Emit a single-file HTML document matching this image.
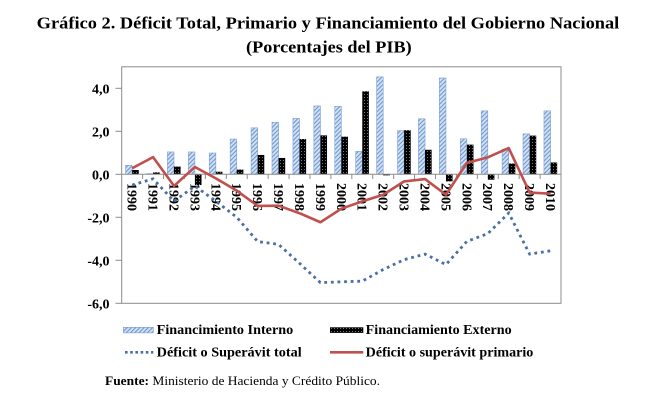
<!DOCTYPE html>
<html>
<head>
<meta charset="utf-8">
<style>
html,body{margin:0;padding:0;background:#fff;}
svg{display:block;}
text{font-family:"Liberation Serif","Times New Roman",serif;}
</style>
</head>
<body>
<svg width="661" height="419" viewBox="0 0 661 419" xmlns="http://www.w3.org/2000/svg" font-family="Liberation Serif, serif">
<defs>
<pattern id="pi" width="3" height="3" patternUnits="userSpaceOnUse" patternTransform="rotate(45)">
<rect width="3" height="3" fill="#d3e1f3"/>
<rect width="1.1" height="3" fill="#6f98d0"/>
</pattern>
<pattern id="pe" width="3" height="3" patternUnits="userSpaceOnUse">
<rect width="3" height="3" fill="#000"/>
<rect x="1" y="1" width="1" height="1" fill="#777"/>
</pattern>
</defs>
<rect width="661" height="419" fill="#fff"/>

<!-- Title -->
<text x="36.7" y="28.5" font-size="17" font-weight="bold" textLength="582.6" lengthAdjust="spacingAndGlyphs">Gráfico 2. Déficit Total, Primario y Financiamiento del Gobierno Nacional</text>
<text x="246" y="52.5" font-size="17" font-weight="bold" textLength="165.7" lengthAdjust="spacingAndGlyphs">(Porcentajes del PIB)</text>

<!-- Plot area border -->
<rect x="121.7" y="66.8" width="439.3" height="236.5" fill="none" stroke="#8c8c8c" stroke-width="1"/>

<!-- Y ticks -->
<g stroke="#8c8c8c" stroke-width="1">
<line x1="115.5" y1="88.3" x2="121.7" y2="88.3"/>
<line x1="115.5" y1="131.3" x2="121.7" y2="131.3"/>
<line x1="115.5" y1="174.3" x2="121.7" y2="174.3"/>
<line x1="115.5" y1="217.3" x2="121.7" y2="217.3"/>
<line x1="115.5" y1="260.3" x2="121.7" y2="260.3"/>
<line x1="115.5" y1="303.3" x2="121.7" y2="303.3"/>
</g>
<g font-size="14" font-weight="bold" text-anchor="end">
<text x="109.5" y="93.3">4,0</text>
<text x="109.5" y="136.3">2,0</text>
<text x="109.5" y="179.3">0,0</text>
<text x="109.5" y="222.3">-2,0</text>
<text x="109.5" y="265.3">-4,0</text>
<text x="109.5" y="308.3">-6,0</text>
</g>

<!-- Bars: Interno -->
<g fill="url(#pi)" stroke="#7aa0d4" stroke-width="0.6">
<rect x="125.56" y="165.27" width="6.6" height="9.03"/>
<rect x="146.48" y="173.65" width="6.6" height="0.65"/>
<rect x="167.40" y="151.94" width="6.6" height="22.36"/>
<rect x="188.32" y="151.94" width="6.6" height="22.36"/>
<rect x="209.24" y="153.01" width="6.6" height="21.29"/>
<rect x="230.16" y="139.04" width="6.6" height="35.26"/>
<rect x="251.08" y="127.86" width="6.6" height="46.44"/>
<rect x="272.00" y="122.27" width="6.6" height="52.03"/>
<rect x="292.92" y="118.40" width="6.6" height="55.90"/>
<rect x="313.84" y="105.93" width="6.6" height="68.37"/>
<rect x="334.76" y="106.36" width="6.6" height="67.94"/>
<rect x="355.68" y="151.30" width="6.6" height="23.00"/>
<rect x="376.60" y="76.90" width="6.6" height="97.40"/>
<rect x="397.52" y="130.65" width="6.6" height="43.65"/>
<rect x="418.44" y="118.83" width="6.6" height="55.47"/>
<rect x="439.36" y="77.98" width="6.6" height="96.32"/>
<rect x="460.28" y="138.82" width="6.6" height="35.48"/>
<rect x="481.20" y="110.87" width="6.6" height="63.43"/>
<rect x="502.12" y="149.14" width="6.6" height="25.16"/>
<rect x="523.04" y="133.88" width="6.6" height="40.42"/>
<rect x="543.96" y="110.87" width="6.6" height="63.43"/>
</g>
<!-- Bars: Externo -->
<g fill="url(#pe)">
<rect x="132.16" y="170.00" width="6.6" height="4.30"/>
<rect x="153.08" y="172.36" width="6.6" height="1.94"/>
<rect x="174.00" y="166.56" width="6.6" height="7.74"/>
<rect x="194.92" y="174.30" width="6.6" height="10.75"/>
<rect x="215.84" y="171.72" width="6.6" height="2.58"/>
<rect x="236.76" y="169.57" width="6.6" height="4.73"/>
<rect x="257.68" y="154.95" width="6.6" height="19.35"/>
<rect x="278.60" y="157.96" width="6.6" height="16.34"/>
<rect x="299.52" y="139.04" width="6.6" height="35.26"/>
<rect x="320.44" y="135.38" width="6.6" height="38.92"/>
<rect x="341.36" y="136.67" width="6.6" height="37.63"/>
<rect x="362.28" y="91.31" width="6.6" height="82.99"/>
<rect x="383.20" y="174.30" width="6.6" height="1.10"/>
<rect x="404.12" y="130.22" width="6.6" height="44.08"/>
<rect x="425.04" y="149.79" width="6.6" height="24.51"/>
<rect x="445.96" y="174.30" width="6.6" height="7.10"/>
<rect x="466.88" y="144.63" width="6.6" height="29.67"/>
<rect x="487.80" y="174.30" width="6.6" height="5.40"/>
<rect x="508.72" y="163.55" width="6.6" height="10.75"/>
<rect x="529.64" y="135.60" width="6.6" height="38.70"/>
<rect x="550.56" y="162.47" width="6.6" height="11.83"/>
</g>

<!-- X axis at zero -->
<line x1="121.7" y1="174.3" x2="561" y2="174.3" stroke="#8c8c8c" stroke-width="1"/>
<g stroke="#8c8c8c" stroke-width="1">
<line x1="142.62" y1="174.3" x2="142.62" y2="179"/>
<line x1="163.54" y1="174.3" x2="163.54" y2="179"/>
<line x1="184.46" y1="174.3" x2="184.46" y2="179"/>
<line x1="205.38" y1="174.3" x2="205.38" y2="179"/>
<line x1="226.30" y1="174.3" x2="226.30" y2="179"/>
<line x1="247.22" y1="174.3" x2="247.22" y2="179"/>
<line x1="268.14" y1="174.3" x2="268.14" y2="179"/>
<line x1="289.06" y1="174.3" x2="289.06" y2="179"/>
<line x1="309.98" y1="174.3" x2="309.98" y2="179"/>
<line x1="330.90" y1="174.3" x2="330.90" y2="179"/>
<line x1="351.82" y1="174.3" x2="351.82" y2="179"/>
<line x1="372.74" y1="174.3" x2="372.74" y2="179"/>
<line x1="393.66" y1="174.3" x2="393.66" y2="179"/>
<line x1="414.58" y1="174.3" x2="414.58" y2="179"/>
<line x1="435.50" y1="174.3" x2="435.50" y2="179"/>
<line x1="456.42" y1="174.3" x2="456.42" y2="179"/>
<line x1="477.34" y1="174.3" x2="477.34" y2="179"/>
<line x1="498.26" y1="174.3" x2="498.26" y2="179"/>
<line x1="519.18" y1="174.3" x2="519.18" y2="179"/>
<line x1="540.10" y1="174.3" x2="540.10" y2="179"/>
</g>

<!-- X labels (rotated) -->
<g font-size="14" font-weight="bold">
<text transform="translate(127.6,183) rotate(90)">1990</text>
<text transform="translate(148.5,183) rotate(90)">1991</text>
<text transform="translate(169.4,183) rotate(90)">1992</text>
<text transform="translate(190.4,183) rotate(90)">1993</text>
<text transform="translate(211.3,183) rotate(90)">1994</text>
<text transform="translate(232.2,183) rotate(90)">1995</text>
<text transform="translate(253.1,183) rotate(90)">1996</text>
<text transform="translate(274.0,183) rotate(90)">1997</text>
<text transform="translate(295.0,183) rotate(90)">1998</text>
<text transform="translate(315.9,183) rotate(90)">1999</text>
<text transform="translate(336.8,183) rotate(90)">2000</text>
<text transform="translate(357.7,183) rotate(90)">2001</text>
<text transform="translate(378.6,183) rotate(90)">2002</text>
<text transform="translate(399.6,183) rotate(90)">2003</text>
<text transform="translate(420.5,183) rotate(90)">2004</text>
<text transform="translate(441.4,183) rotate(90)">2005</text>
<text transform="translate(462.3,183) rotate(90)">2006</text>
<text transform="translate(483.2,183) rotate(90)">2007</text>
<text transform="translate(504.2,183) rotate(90)">2008</text>
<text transform="translate(525.1,183) rotate(90)">2009</text>
<text transform="translate(546.0,183) rotate(90)">2010</text>
</g>

<!-- Total deficit (dotted) -->
<polyline fill="none" stroke="#4a6fa5" stroke-width="2.8" stroke-dasharray="2.8 3.8"
points="132.16,185.05 153.08,178.82 174.00,201.20 194.92,186.10 215.84,201.18 236.76,217.30 257.68,241.60 278.60,244.39 299.52,263.31 320.44,282.66 341.36,281.80 362.28,281.16 383.20,269.55 404.12,259.66 425.04,254.07 445.96,264.60 466.88,241.38 487.80,233.64 508.72,213.00 529.64,254.07 550.56,250.84"/>

<!-- Primary deficit (red) -->
<polyline fill="none" stroke="#c0504d" stroke-width="2.6" stroke-linejoin="round"
points="132.16,168.28 153.08,157.10 174.00,185.91 194.92,166.99 215.84,178.39 236.76,190.64 257.68,205.90 278.60,205.69 299.52,213.22 320.44,222.25 341.36,208.70 362.28,201.39 383.20,194.73 404.12,181.40 425.04,179.03 445.96,194.73 466.88,162.90 487.80,157.32 508.72,148.07 529.64,192.58 550.56,193.65"/>

<!-- Legend -->
<rect x="123.3" y="327.3" width="30" height="5.6" fill="url(#pi)" stroke="#7aa0d4" stroke-width="0.6"/>
<text x="156.7" y="334" font-size="13.5" font-weight="bold" textLength="136.5" lengthAdjust="spacingAndGlyphs">Financimiento Interno</text>
<rect x="330" y="327.3" width="33.3" height="5.6" fill="url(#pe)"/>
<text x="365.7" y="334" font-size="13.5" font-weight="bold" textLength="146" lengthAdjust="spacingAndGlyphs">Financiamiento Externo</text>
<line x1="125" y1="352.3" x2="153.3" y2="352.3" stroke="#4a6fa5" stroke-width="2.6" stroke-dasharray="2.6 2.6"/>
<text x="156.7" y="356.5" font-size="13.5" font-weight="bold" textLength="145" lengthAdjust="spacingAndGlyphs">Déficit o Superávit total</text>
<line x1="330" y1="352.3" x2="363.3" y2="352.3" stroke="#c0504d" stroke-width="2.6"/>
<text x="365.7" y="356.5" font-size="13.5" font-weight="bold" textLength="167.6" lengthAdjust="spacingAndGlyphs">Déficit o superávit primario</text>

<!-- Source -->
<text x="105" y="385" font-size="13" textLength="275" lengthAdjust="spacingAndGlyphs"><tspan font-weight="bold">Fuente:</tspan> Ministerio de Hacienda y Crédito Público.</text>
</svg>
</body>
</html>
